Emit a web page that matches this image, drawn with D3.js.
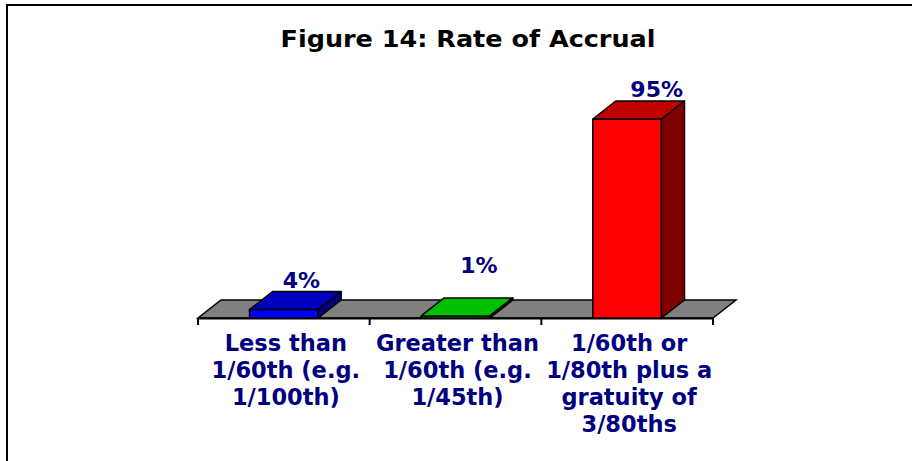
<!DOCTYPE html>
<html>
<head>
<meta charset="utf-8">
<script src="https://cdn.jsdelivr.net/npm/d3@7"></script>
<style>
  html, body { margin: 0; padding: 0; background: #fff; }
  svg { display: block; }
</style>
</head>
<body>
<svg id="chart" width="912" height="461"></svg>
<script>
// ---- data ----
const title = "Figure 14: Rate of Accrual";
const categories = [
  ["Less than", "1/60th (e.g.", "1/100th)"],
  ["Greater than", "1/60th (e.g.", "1/45th)"],
  ["1/60th or", "1/80th plus a", "gratuity of", "3/80ths"]
];
const values = [4, 1, 95];
const valueLabels = ["4%", "1%", "95%"];
const frontColors = ["#0000FF", "#00FF00", "#FF0000"];
const topColors   = ["#0000C0", "#00C000", "#C00000"];
const sideColors  = ["#000080", "#008000", "#800000"];

// ---- layout ----
const layout = {
  x0: 198, x1: 713, y0: 318, yTop: 108.5,
  dx: 23, dy: -18, barFrac: 0.4,
  labelNudge: [[0, 0], [0, -21], [0, 0]]
};

const svg = d3.select("#chart");

// outer frame
svg.append("rect").attr("x", 7).attr("y", 5).attr("width", 940).attr("height", 500)
  .attr("fill", "none").attr("stroke", "#000").attr("stroke-width", 2);

svg.append("text").attr("x", 468).attr("y", 47).attr("text-anchor", "middle")
  .attr("font-family", "'DejaVu Sans', Verdana, sans-serif").attr("font-weight", "bold")
  .attr("font-size", 23).attr("fill", "#000").attr("textLength", 375)
  .attr("lengthAdjust", "spacingAndGlyphs").text(title);

const idx = categories.map((d, i) => i);
const x = d3.scaleBand().domain(idx).range([layout.x0, layout.x1]).padding(0);
const y = d3.scaleLinear().domain([0, 100]).range([layout.y0, layout.yTop]);
const {dx, dy} = layout;

// floor
const fl = [[layout.x0, layout.y0], [layout.x1, layout.y0], [layout.x1 + dx, layout.y0 + dy], [layout.x0 + dx, layout.y0 + dy]];
svg.append("polygon").attr("points", fl.map(p => p.join(",")).join(" "))
  .attr("fill", "#808080").attr("stroke", "#000").attr("stroke-width", 1.5);

// axis with ticks
const axis = d3.axisBottom(x).tickSize(0).tickFormat("");
const axG = svg.append("g").attr("transform", `translate(0,${layout.y0})`);
axG.call(axis);
axG.select(".domain").attr("stroke", "#000").attr("stroke-width", 2);
const tickXs = idx.map(i => x(i)).concat([layout.x1]);
axG.selectAll("line.tk").data(tickXs).join("line").attr("class", "tk")
  .attr("x1", d => d).attr("x2", d => d).attr("y1", 0).attr("y2", 7)
  .attr("stroke", "#000").attr("stroke-width", 2);

// bars
const bw = x.bandwidth() * layout.barFrac;
const bars = svg.append("g");
values.forEach((v, i) => {
  const cx = x(i) + x.bandwidth() / 2;
  const l = cx - bw / 2, r = cx + bw / 2, b = y(0), t = y(v);
  const g = bars.append("g");
  const poly = (pts, fill) => g.append("polygon")
    .attr("points", pts.map(p => p.join(",")).join(" "))
    .attr("fill", fill).attr("stroke", "#000").attr("stroke-width", 1.5)
    .attr("stroke-linejoin", "round");
  poly([[l, b], [r, b], [r, t], [l, t]], frontColors[i]);
  poly([[l, t], [r, t], [r + dx, t + dy], [l + dx, t + dy]], topColors[i]);
  poly([[r, b], [r + dx, b + dy], [r + dx, t + dy], [r, t]], sideColors[i]);
  const nudge = layout.labelNudge[i];
  svg.append("text")
    .attr("x", cx + dx / 2 + 6 * i + 6 + nudge[0])
    .attr("y", t + dy - 4 + nudge[1])
    .attr("text-anchor", "middle")
    .attr("font-family", "'DejaVu Sans', Verdana, sans-serif").attr("font-weight", "bold")
    .attr("font-size", 22).attr("fill", "#000080")
    .text(valueLabels[i]);
});

// category labels
categories.forEach((lines, i) => {
  const cx = x(i) + x.bandwidth() / 2;
  const t = svg.append("text").attr("text-anchor", "middle")
    .attr("font-family", "'DejaVu Sans', Verdana, sans-serif").attr("font-weight", "bold")
    .attr("font-size", 22.5).attr("fill", "#000080");
  lines.forEach((ln, j) => {
    t.append("tspan").attr("x", cx + 2).attr("y", 351 + j * 27).text(ln);
  });
});
</script>
</body>
</html>
